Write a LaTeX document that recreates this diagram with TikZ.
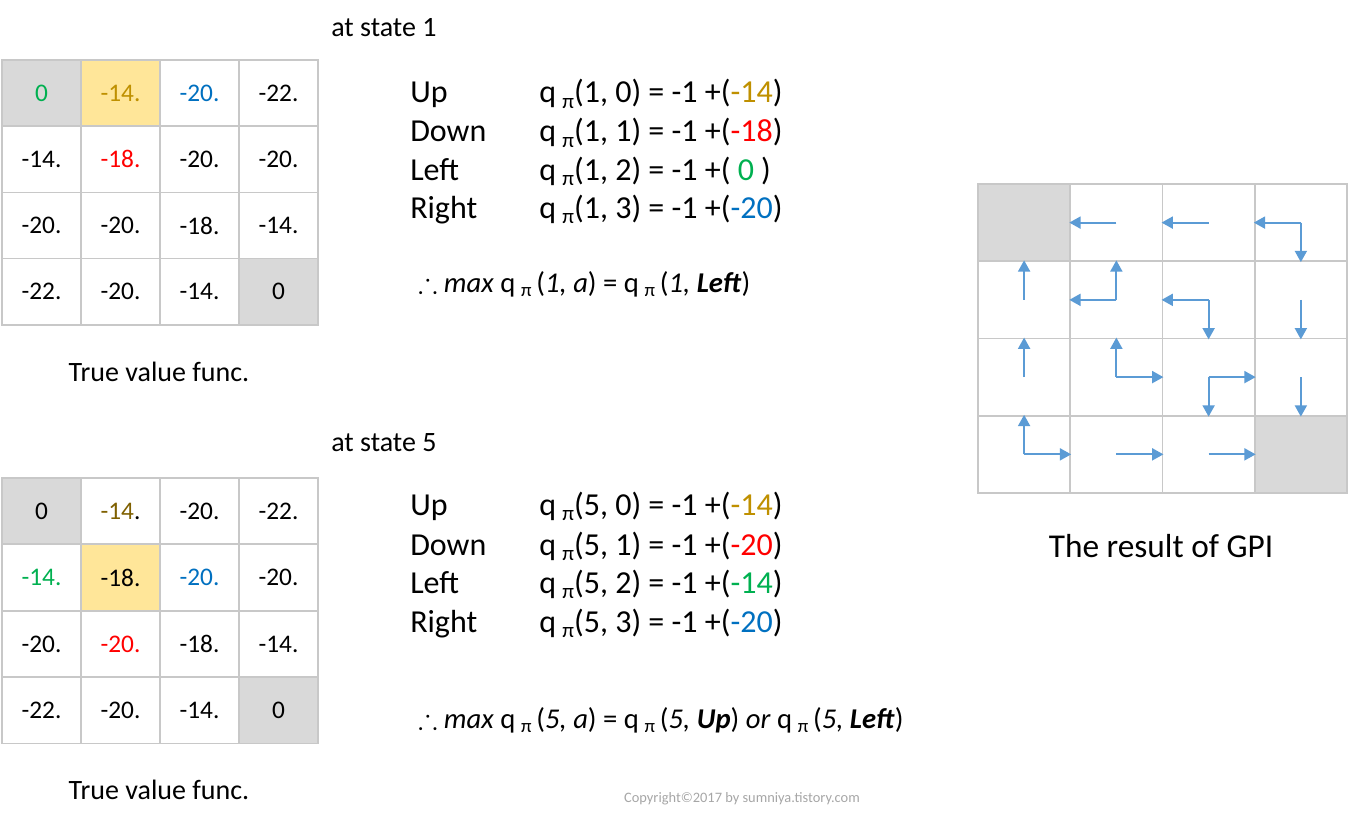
\documentclass[tikz,border=0pt]{standalone}
\usepackage{fontspec}
\usepackage{amssymb}
\setmainfont{Carlito}
\usetikzlibrary{arrows.meta}

\definecolor{gridline}{HTML}{C8C8C8}
\definecolor{termgray}{HTML}{D9D9D9}
\definecolor{hlyellow}{HTML}{FFE699}
\definecolor{vgold}{HTML}{BF9000}
\definecolor{vbrown}{HTML}{7F6000}
\definecolor{vred}{HTML}{FF0000}
\definecolor{vgreen}{HTML}{00B050}
\definecolor{vblue}{HTML}{0070C0}
\definecolor{polblue}{HTML}{5B9BD5}
\definecolor{copygray}{HTML}{A6A6A6}

\newcommand{\qpi}{q\kern.2em\raisebox{-0.35ex}{\fontsize{0.66em}{1em}\selectfont π}}
\newcommand{\eqfont}{\fontsize{24}{28}\selectfont}
\newcommand{\ccfont}{\fontsize{21.5}{25}\selectfont}

\tikzset{
  vcell/.style={draw=gridline, line width=1.1pt, minimum width=59.25pt,
    minimum height=49.7pt, inner sep=0pt, font=\fontsize{19}{22}\selectfont},
  gcell/.style={draw=gridline, line width=1.4pt, minimum width=69.2pt,
    minimum height=57.9pt, inner sep=0pt},
  term/.style={fill=termgray},
  hl/.style={fill=hlyellow},
  plain/.style={fill=white},
  pol/.style={draw=polblue, line width=1.5pt, -{Triangle[length=8.5pt,width=9pt]}},
  txt/.style={inner sep=0pt, anchor=base west},
}

\begin{document}
\begin{tikzpicture}[x=0.75pt, y=-0.75pt]
    \useasboundingbox (0,0) rectangle (1349,824);

    % True value function seen from state 1.
    \foreach \row [count=\ri from 0] in {
        {term/vgreen/0, hl/vgold/-14., plain/vblue/-20., plain/black/-22.},
        {plain/black/-14., plain/vred/-18., plain/black/-20., plain/black/-20.},
        {plain/black/-20., plain/black/-20., plain/black/-18., plain/black/-14.},
        {plain/black/-22., plain/black/-20., plain/black/-14., term/black/0}} {
      \foreach \fl/\tc/\val [count=\ci from 0] in \row {
        \node[vcell, \fl, text=\tc] (va-\ri-\ci) at ({41.5+79*\ci}, {93+66.25*\ri}) {\val};
      }
    }

    % True value function seen from state 5.
    \foreach \row [count=\ri from 0] in {
        {term/black/0, plain/black/\textcolor{vbrown}{-14}., plain/black/-20., plain/black/-22.},
        {plain/vgreen/-14., hl/black/-18., plain/vblue/-20., plain/black/-20.},
        {plain/black/-20., plain/vred/-20., plain/black/-18., plain/black/-14.},
        {plain/black/-22., plain/black/-20., plain/black/-14., term/black/0}} {
      \foreach \fl/\tc/\val [count=\ci from 0] in \row {
        \node[vcell, \fl, text=\tc] (vb-\ri-\ci) at ({41.5+79*\ci}, {511+66.5*\ri}) {\val};
      }
    }

    % Captions.
    \node[txt, anchor=west, font=\fontsize{21}{25}\selectfont] (st1) at (331,28) {at state 1};
    \node[txt, anchor=west, font=\fontsize{21}{25}\selectfont] (st5) at (331,443) {at state 5};
    \node[inner sep=0pt, font=\fontsize{21}{25}\selectfont] (tva) at (159,372) {True value func.};
    \node[inner sep=0pt, font=\fontsize{21}{25}\selectfont] (tvb) at (159,790) {True value func.};

    % Action values, state 1.
    \begin{scope}[font=\eqfont]
      \node[txt] (ua) at (410,103) {Up};
      \node[txt] (da) at (410,142) {Down};
      \node[txt] (la) at (410,180) {Left};
      \node[txt] (ra) at (410,218) {Right};
      \node[txt] (qua) at (539,103) {\qpi(1, 0) = -1 +(\textcolor{vgold}{-14})};
      \node[txt] (qda) at (539,142) {\qpi(1, 1) = -1 +(\textcolor{vred}{-18})};
      \node[txt] (qla) at (539,180) {\qpi(1, 2) = -1 +( \textcolor{vgreen}{0} )};
      \node[txt] (qra) at (539,218) {\qpi(1, 3) = -1 +(\textcolor{vblue}{-20})};
    \end{scope}
    \node[txt, font=\ccfont] (maxa) at (418,292)
      {$\therefore$ \textit{max} \qpi\,(\textit{1, a}) = \qpi\,(\textit{1, \textbf{Left}})};

    % Action values, state 5.
    \begin{scope}[font=\eqfont]
      \node[txt] (ub) at (410,515) {Up};
      \node[txt] (db) at (410,555) {Down};
      \node[txt] (lb) at (410,593) {Left};
      \node[txt] (rb) at (410,632) {Right};
      \node[txt] (qub) at (539,515) {\qpi(5, 0) = -1 +(\textcolor{vgold}{-14})};
      \node[txt] (qdb) at (539,555) {\qpi(5, 1) = -1 +(\textcolor{vred}{-20})};
      \node[txt] (qlb) at (539,593) {\qpi(5, 2) = -1 +(\textcolor{vgreen}{-14})};
      \node[txt] (qrb) at (539,632) {\qpi(5, 3) = -1 +(\textcolor{vblue}{-20})};
    \end{scope}
    \node[txt, font=\ccfont] (maxb) at (418,728)
      {$\therefore$ \textit{max} \qpi\,(\textit{5, a}) = \qpi\,(\textit{5, \textbf{Up}}) \textit{or} \qpi\,(\textit{5, \textbf{Left}})};

    % Greedy policy after GPI.
    \foreach \ri in {0,...,3} {
      \foreach \ci in {0,...,3} {
        \node[gcell, plain] (g-\ri-\ci) at ({1024.1+92.25*\ci}, {222.6+77.25*\ri}) {};
      }
    }
    \node[gcell, term] (g-0-0) at (1024.1,222.6) {};
    \node[gcell, term] (g-3-3) at ({1024.1+92.25*3}, {222.6+77.25*3}) {};
    \foreach \ri/\ci/\dirs in {0/1/west, 0/2/west, 0/3/{west,south},
        1/0/north, 1/1/{west,north}, 1/2/{west,south}, 1/3/south,
        2/0/north, 2/1/{north,east}, 2/2/{east,south}, 2/3/south,
        3/0/{north,east}, 3/1/east, 3/2/east} {
      \foreach \d in \dirs {
        \draw[pol] (g-\ri-\ci.center) -- (g-\ri-\ci.\d);
      }
    }
    \node[inner sep=0pt, font=\fontsize{25}{30}\selectfont] (gpi) at (1161,546) {The result of GPI};

    \node[inner sep=0pt, text=copygray, font=\fontsize{10.8}{13}\selectfont] (copy) at (742,799)
      {Copyright©2017 by sumniya.tistory.com};
\end{tikzpicture}
\end{document}
